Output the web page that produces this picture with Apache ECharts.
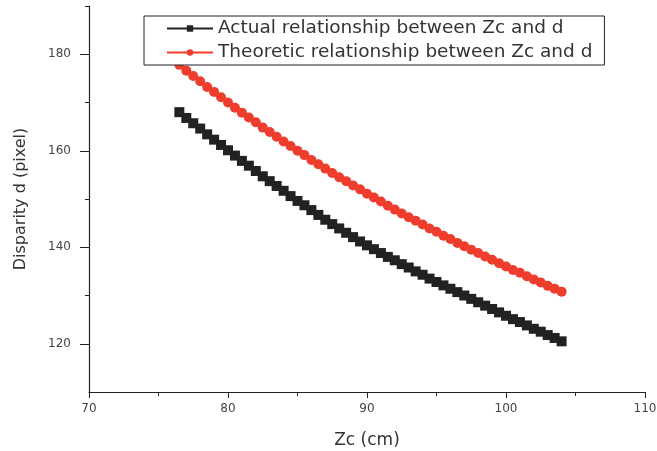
<!DOCTYPE html>
<html>
<head>
<meta charset="utf-8">
<script src="https://cdn.jsdelivr.net/npm/echarts@6/dist/echarts.min.js"></script>
<style>
  html, body { margin: 0; padding: 0; background: #fff; }
  #chart { width: 657px; height: 451px; }
</style>
</head>
<body>
<div id="chart"></div>
<script>
// Zc (cm) sample positions
const zc = [
  76.5, 77, 77.5, 78, 78.5, 79, 79.5, 80, 80.5, 81, 81.5, 82, 82.5, 83,
  83.5, 84, 84.5, 85, 85.5, 86, 86.5, 87, 87.5, 88, 88.5, 89, 89.5, 90,
  90.5, 91, 91.5, 92, 92.5, 93, 93.5, 94, 94.5, 95, 95.5, 96, 96.5, 97,
  97.5, 98, 98.5, 99, 99.5, 100, 100.5, 101, 101.5, 102, 102.5, 103, 103.5, 104
];
// disparity
const actualD = [
  168.0, 166.8, 165.7, 164.6, 163.4, 162.3, 161.2, 160.1, 159.0, 157.9, 156.9, 155.8, 154.7, 153.7,
  152.7, 151.7, 150.6, 149.6, 148.7, 147.7, 146.7, 145.7, 144.8, 143.9, 143.0, 142.1, 141.2, 140.4,
  139.6, 138.8, 138.0, 137.3, 136.5, 135.8, 135.0, 134.3, 133.5, 132.8, 132.1, 131.4, 130.7, 130.0,
  129.3, 128.6, 127.9, 127.2, 126.5, 125.8, 125.1, 124.5, 123.8, 123.1, 122.5, 121.8, 121.2, 120.5
];
// disparity
const theoryD = [
  177.8, 176.6, 175.5, 174.4, 173.2, 172.2, 171.1, 170.0, 168.9, 167.9, 166.9, 165.9, 164.8, 163.9,
  162.9, 161.9, 161.0, 160.0, 159.1, 158.1, 157.2, 156.3, 155.4, 154.5, 153.7, 152.8, 152.0, 151.1,
  150.3, 149.5, 148.6, 147.8, 147.0, 146.2, 145.5, 144.7, 143.9, 143.2, 142.4, 141.7, 140.9, 140.2,
  139.5, 138.8, 138.1, 137.4, 136.7, 136.0, 135.3, 134.7, 134.0, 133.3, 132.7, 132.0, 131.4, 130.8
];
const yMajor = [120, 140, 160, 180];
const yMinor = [130, 150, 170, 190];

const font = "DejaVu Sans";
const chart = echarts.init(document.getElementById("chart"));

chart.setOption({
  backgroundColor: "#fff",
  animation: false,
  grid: { left: 89, right: 12, top: 6, bottom: 59, outerBoundsMode: "none", containLabel: false },
  legend: {
    orient: "vertical",
    left: 144,
    top: 16,
    padding: [3, 12, 3, 22],
    itemGap: 5,
    itemWidth: 46,
    itemHeight: 8,
    backgroundColor: "#fff",
    borderColor: "#222",
    borderWidth: 1,
    borderRadius: 0,
    textStyle: { fontFamily: font, fontSize: 18.5, color: "#333" },
    data: [
      "Actual relationship between Zc and d",
      "Theoretic relationship between Zc and d"
    ]
  },
  xAxis: {
    type: "value",
    min: 70,
    max: 110,
    interval: 10,
    name: "Zc (cm)",
    nameLocation: "middle",
    nameGap: 40,
    nameTextStyle: { fontFamily: font, fontSize: 17, color: "#333" },
    axisLine: { show: true, lineStyle: { color: "#222", width: 1.2 } },
    axisTick: { show: true, length: 6, lineStyle: { color: "#222" } },
    minorTick: { show: true, splitNumber: 2, length: 4, lineStyle: { color: "#222" } },
    axisLabel: { fontFamily: font, fontSize: 12, color: "#444", margin: 11 },
    splitLine: { show: false }
  },
  yAxis: [
    {
      type: "value",
      min: 110,
      max: 190,
      name: "Disparity d (pixel)",
      nameLocation: "middle",
      nameGap: 60,
      nameTextStyle: { fontFamily: font, fontSize: 16, color: "#333" },
      axisLine: { show: true, lineStyle: { color: "#222", width: 1.2 } },
      axisTick: { show: true, length: 9, customValues: yMajor, lineStyle: { color: "#222" } },
      axisLabel: { fontFamily: font, fontSize: 12, color: "#444", margin: 18, customValues: yMajor },
      splitLine: { show: false }
    },
    {
      type: "value",
      min: 110,
      max: 190,
      position: "left",
      axisLine: { show: false },
      axisTick: { show: true, length: 4, customValues: yMinor, lineStyle: { color: "#222" } },
      axisLabel: { show: false },
      splitLine: { show: false }
    }
  ],
  series: [
    {
      name: "Actual relationship between Zc and d",
      type: "line",
      data: zc.map((z, i) => [z, actualD[i]]),
      symbol: "rect",
      symbolSize: 10,
      itemStyle: { color: "#222" },
      lineStyle: { color: "#222", width: 1 }
    },
    {
      name: "Theoretic relationship between Zc and d",
      type: "line",
      data: zc.map((z, i) => [z, theoryD[i]]),
      symbol: "circle",
      symbolSize: 10,
      itemStyle: { color: "#ef3d2d" },
      lineStyle: { color: "#ef3d2d", width: 1 }
    }
  ]
});
</script>
</body>
</html>
